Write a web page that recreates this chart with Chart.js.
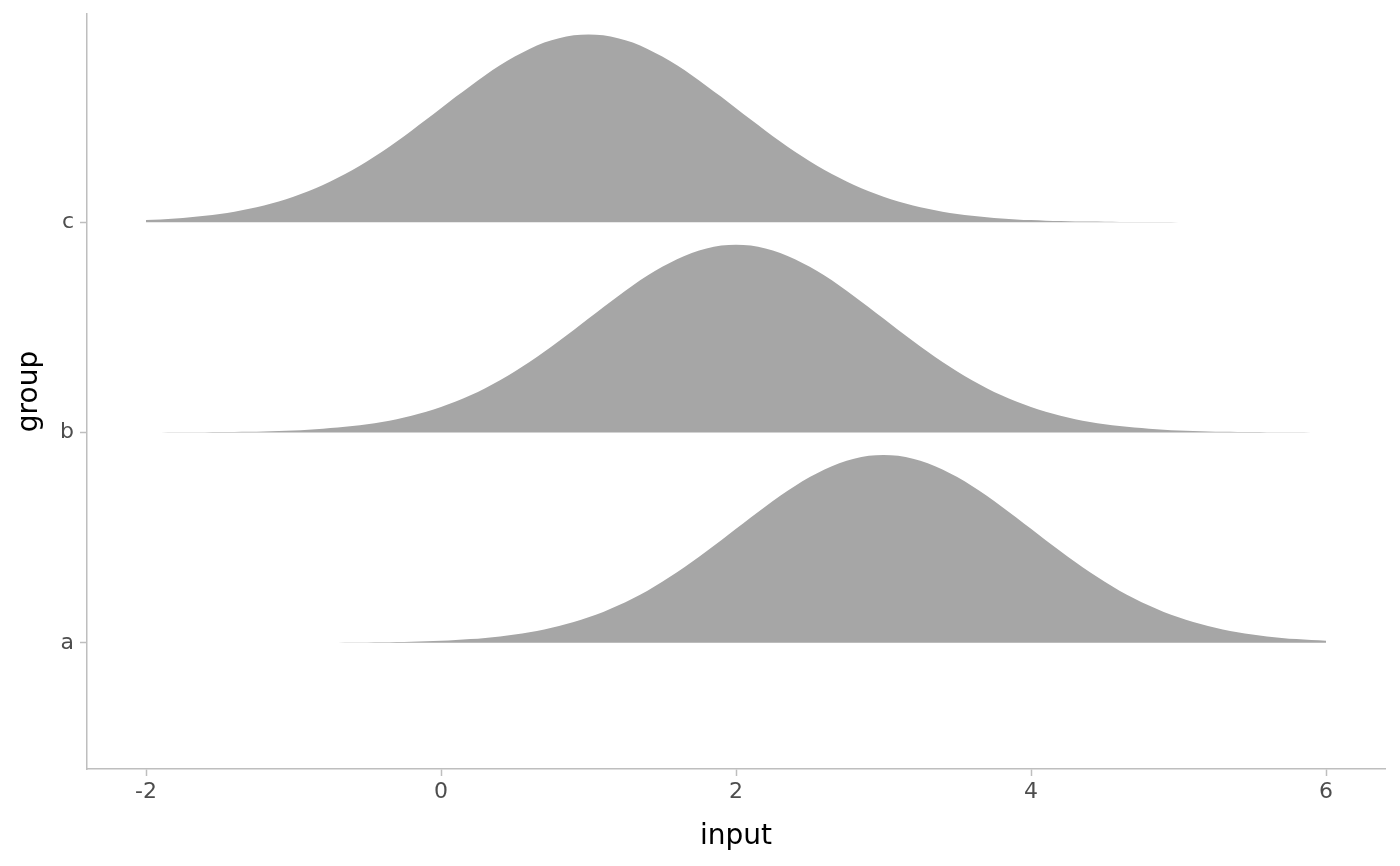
<!DOCTYPE html>
<html>
<head>
<meta charset="utf-8">
<script src="https://cdn.jsdelivr.net/npm/chart.js@4/dist/chart.umd.min.js"></script>
<style>
  html, body { margin: 0; padding: 0; background: #fff; }
  #wrap { width: 1400px; height: 866px; }
</style>
</head>
<body>
<div id="wrap"><canvas id="ridges"></canvas></div>
<script>
"use strict";

// density grid along "input"
var inputX = [-2, -1.9, -1.8, -1.7, -1.6, -1.5, -1.4, -1.3, -1.2, -1.1,
    -1, -0.9, -0.8, -0.7, -0.6, -0.5, -0.4, -0.3, -0.2, -0.1,
    0, 0.1, 0.2, 0.3, 0.4, 0.5, 0.6, 0.7, 0.8, 0.9,
    1, 1.1, 1.2, 1.3, 1.4, 1.5, 1.6, 1.7, 1.8, 1.9,
    2, 2.1, 2.2, 2.3, 2.4, 2.5, 2.6, 2.7, 2.8, 2.9,
    3, 3.1, 3.2, 3.3, 3.4, 3.5, 3.6, 3.7, 3.8, 3.9,
    4, 4.1, 4.2, 4.3, 4.4, 4.5, 4.6, 4.7, 4.8, 4.9,
    5, 5.1, 5.2, 5.3, 5.4, 5.5, 5.6, 5.7, 5.8, 5.9, 6];

// ridge heights above each group's baseline (in group units)
var heightC = [0.0099, 0.0133, 0.0177, 0.0233, 0.0304, 0.0392, 0.0501, 0.0634, 0.0794, 0.0985,
    0.121, 0.147, 0.177, 0.211, 0.248, 0.290, 0.335, 0.384, 0.435, 0.488,
    0.542, 0.596, 0.648, 0.699, 0.746, 0.788, 0.824, 0.854, 0.875, 0.889,
    0.893, 0.889, 0.875, 0.854, 0.824, 0.788, 0.746, 0.699, 0.648, 0.596,
    0.542, 0.488, 0.435, 0.384, 0.335, 0.290, 0.248, 0.211, 0.177, 0.147,
    0.121, 0.0985, 0.0794, 0.0634, 0.0501, 0.0392, 0.0304, 0.0233, 0.0177, 0.0133,
    0.0099, 0.0073, 0.0053, 0.0039, 0.0028, 0.0020, 0.0014, 0.0009, 0.0007, 0.0004,
    0.0003, 0.0002, 0.0001, null, null, null, null, null, null, null, null];
var heightB = [0.0003, 0.0004, 0.0007, 0.0009, 0.0014, 0.0020, 0.0028, 0.0039, 0.0053, 0.0073,
    0.0099, 0.0133, 0.0177, 0.0233, 0.0304, 0.0392, 0.0501, 0.0634, 0.0794, 0.0985,
    0.121, 0.147, 0.177, 0.211, 0.248, 0.290, 0.335, 0.384, 0.435, 0.488,
    0.542, 0.596, 0.648, 0.699, 0.746, 0.788, 0.824, 0.854, 0.875, 0.889,
    0.893, 0.889, 0.875, 0.854, 0.824, 0.788, 0.746, 0.699, 0.648, 0.596,
    0.542, 0.488, 0.435, 0.384, 0.335, 0.290, 0.248, 0.211, 0.177, 0.147,
    0.121, 0.0985, 0.0794, 0.0634, 0.0501, 0.0392, 0.0304, 0.0233, 0.0177, 0.0133,
    0.0099, 0.0073, 0.0053, 0.0039, 0.0028, 0.0020, 0.0014, 0.0009, 0.0007, 0.0004, 0.0003];
var heightA = [null, null, null, null, null, null, null, null, 0.0001, 0.0002,
    0.0003, 0.0004, 0.0007, 0.0009, 0.0014, 0.0020, 0.0028, 0.0039, 0.0053, 0.0073,
    0.0099, 0.0133, 0.0177, 0.0233, 0.0304, 0.0392, 0.0501, 0.0634, 0.0794, 0.0985,
    0.121, 0.147, 0.177, 0.211, 0.248, 0.290, 0.335, 0.384, 0.435, 0.488,
    0.542, 0.596, 0.648, 0.699, 0.746, 0.788, 0.824, 0.854, 0.875, 0.889,
    0.893, 0.889, 0.875, 0.854, 0.824, 0.788, 0.746, 0.699, 0.648, 0.596,
    0.542, 0.488, 0.435, 0.384, 0.335, 0.290, 0.248, 0.211, 0.177, 0.147,
    0.121, 0.0985, 0.0794, 0.0634, 0.0501, 0.0392, 0.0304, 0.0233, 0.0177, 0.0133, 0.0099];

var groupLabels = ["a", "b", "c"];
var groupPositions = [1, 2, 3];
var xTicks = [-2, 0, 2, 4, 6];

var FILL = "#A6A6A6";
var AXIS = "#BEBEBE";

function ridgePoints(heights, base) {
    var pts = [];
    for (var i = 0; i < inputX.length; i++) {
        if (heights[i] === null) continue;
        pts.push({ x: inputX[i], y: base + heights[i] });
    }
    return pts;
}

function ridgeDataset(label, heights, base) {
    return {
        label: label,
        data: ridgePoints(heights, base),
        fill: { value: base },
        backgroundColor: FILL,
        borderColor: "rgba(0,0,0,0)",
        borderWidth: 0,
        pointRadius: 0,
        cubicInterpolationMode: "monotone"
    };
}

var ctx = document.getElementById("ridges").getContext("2d");
new Chart(ctx, {
    type: "line",
    data: {
        datasets: [
            ridgeDataset("c", heightC, groupPositions[2]),
            ridgeDataset("b", heightB, groupPositions[1]),
            ridgeDataset("a", heightA, groupPositions[0])
        ]
    },
    options: {
        responsive: true,
        maintainAspectRatio: false,
        animation: false,
        layout: { padding: { top: 14, right: 15, left: 0, bottom: 0 } },
        plugins: { legend: { display: false }, tooltip: { enabled: false } },
        scales: {
            x: {
                type: "linear",
                min: -2.4,
                max: 6.4,
                afterBuildTicks: function (scale) {
                    scale.ticks = xTicks.map(function (v) { return { value: v }; });
                },
                afterFit: function (scale) {
                    scale.height = 97;
                    scale.paddingLeft = 0;
                    scale.paddingRight = 0;
                },
                grid: { drawOnChartArea: false, drawTicks: true, tickLength: 7, tickColor: AXIS, tickWidth: 1.5 },
                border: { display: true, color: AXIS, width: 1.5 },
                ticks: {
                    padding: 3,
                    color: "#4D4D4D",
                    font: { family: "DejaVu Sans", size: 22 },
                    callback: function (v) { return String(v); }
                },
                title: {
                    display: true,
                    text: "input",
                    color: "#000",
                    font: { family: "DejaVu Sans", size: 28 },
                    padding: { top: 0, bottom: 12 }
                }
            },
            y: {
                type: "linear",
                min: 0.4,
                max: 3.99,
                afterBuildTicks: function (scale) {
                    scale.ticks = groupPositions.map(function (v) { return { value: v }; });
                },
                afterFit: function (scale) {
                    scale.width = 87;
                    scale.paddingTop = 0;
                    scale.paddingBottom = 0;
                },
                grid: { drawOnChartArea: false, drawTicks: true, tickLength: 7, tickColor: AXIS, tickWidth: 1.5 },
                border: { display: true, color: AXIS, width: 1.5 },
                ticks: {
                    padding: 6,
                    color: "#4D4D4D",
                    font: { family: "DejaVu Sans", size: 22 },
                    callback: function (v) { return groupLabels[groupPositions.indexOf(v)]; }
                },
                title: {
                    display: true,
                    text: "group",
                    color: "#000",
                    font: { family: "DejaVu Sans", size: 28 },
                    padding: { top: 13, bottom: 0 }
                }
            }
        }
    }
});
</script>
</body>
</html>
